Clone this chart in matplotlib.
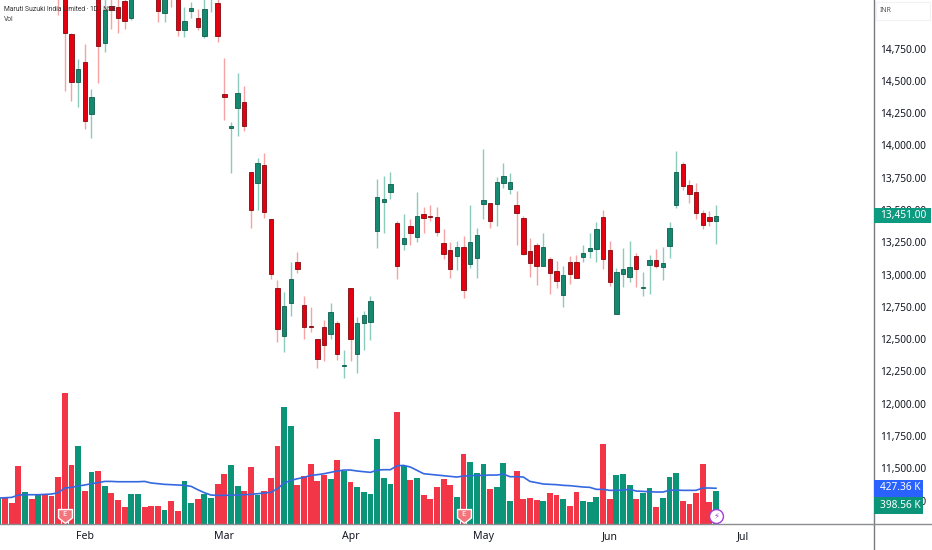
import matplotlib
matplotlib.use('Agg')
import matplotlib.pyplot as plt
from matplotlib.lines import Line2D
from matplotlib.patches import Rectangle
from matplotlib.path import Path

plt.rcParams['font.family'] = ['Noto Sans', 'DejaVu Sans']

# daily prices (candles above the top edge are only roughly known)
opens = [15300, 15400, 15320, 15500, 15280, 15420, 15300, 15480, 15400, 15350,
         15300, 14860, 14493, 14643, 14240, 15250, 14790, 15079, 15074, 15118,
         14989, 15200, 15350, 15300, 15300, 15022, 15350, 15280, 14891, 15040,
         14989, 14849, 15160, 15100, 14400, 14137, 14292, 14333, 13794, 13712,
         13846, 13428, 12896, 12527, 12783, 13097, 12762, 12600, 12499, 12594,
         12543, 12623, 12295, 12896, 12383, 12623, 12636, 13340, 13562, 13642,
         13397, 13239, 13376, 13294, 13469, 13454, 13443, 13242, 13193, 13147,
         13216, 13085, 13126, 13549, 13557, 13549, 13712, 13665, 13541, 13436,
         13180, 13229, 13069, 13123, 13030, 12842, 13095, 13098, 13136, 13183,
         13201, 13448, 13193, 12695, 13007, 12984, 13147, 12896, 13072, 13113,
         13061, 13224, 13541, 13853, 13693, 13639, 13474, 13443, 13415]
closes = [15400, 15300, 15250, 15280, 15400, 15300, 15450, 15350, 15300, 15150,
          14867, 14493, 14589, 14191, 14377, 14772, 15048, 15048, 14984, 14965,
          15200, 15300, 15250, 15180, 15040, 15250, 15180, 14891, 14965, 15063,
          14914, 15058, 15300, 14847, 14377, 14150, 14406, 14148, 13497, 13864,
          13487, 13007, 12581, 12754, 12966, 13043, 12592, 12594, 12349, 12458,
          12708, 12383, 12303, 12504, 12628, 12685, 12796, 13601, 13585, 13704,
          13069, 13283, 13325, 13451, 13441, 13448, 13332, 13157, 13043, 13216,
          12883, 13250, 13309, 13577, 13417, 13714, 13766, 13719, 13474, 13162,
          13092, 13067, 13216, 13010, 12950, 13000, 13002, 12976, 13165, 13203,
          13355, 13123, 12940, 13018, 13041, 13059, 13043, 12907, 13113, 13067,
          13092, 13358, 13797, 13686, 13624, 13477, 13386, 13415, 13451]
highs = [15450, 15480, 15380, 15550, 15450, 15470, 15500, 15520, 15440, 15400,
         15350, 14870, 14666, 14785, 14439, 15300, 15200, 15140, 15130, 15160,
         15250, 15350, 15400, 15350, 15350, 15300, 15400, 15300, 15069, 15113,
         15053, 15200, 15350, 15200, 14674, 14179, 14563, 14460, 13794, 13905,
         13939, 13428, 12958, 12865, 13097, 13172, 12834, 12752, 12499, 12649,
         12778, 12644, 12416, 12896, 12669, 12716, 12834, 13737, 13763, 13794,
         13415, 13469, 13430, 13639, 13526, 13539, 13521, 13350, 13250, 13263,
         13299, 13539, 13358, 13970, 13557, 13758, 13864, 13789, 13647, 13454,
         13283, 13242, 13319, 13139, 13103, 13067, 13144, 13149, 13229, 13325,
         13410, 13500, 13263, 13049, 13208, 13260, 13170, 13018, 13149, 13198,
         13211, 13410, 13957, 13869, 13732, 13712, 13500, 13492, 13541]
lows = [15250, 15260, 15200, 15220, 15240, 15260, 15280, 15300, 15260, 15009,
        14424, 14346, 14300, 14130, 14055, 14480, 14720, 14898, 14867, 14901,
        14971, 15150, 15180, 15140, 14958, 14958, 15069, 14849, 14842, 14984,
        14893, 14829, 15035, 14798, 14197, 13789, 14075, 14111, 13363, 13500,
        13435, 12963, 12478, 12398, 12682, 13010, 12504, 12556, 12280, 12331,
        12504, 12339, 12200, 12331, 12238, 12419, 12494, 13206, 13325, 13588,
        12963, 13193, 13232, 13252, 13325, 13417, 13299, 13121, 12974, 13036,
        12821, 13048, 12971, 13433, 13358, 13376, 13670, 13624, 13229, 13152,
        12981, 12920, 13069, 12847, 12899, 12749, 12927, 12976, 13098, 13128,
        13100, 13043, 12914, 12695, 12907, 12943, 12907, 12837, 12847, 13054,
        12961, 13126, 13518, 13655, 13557, 13428, 13350, 13376, 13234]
# volume in thousands
volumes = [310, 310, 247, 697, 386, 295, 342, 350, 334, 565, 1564, 708, 935, 394,
           617, 637, 450, 374, 283, 199, 362, 362, 207, 215, 215, 171, 279, 155,
           517, 247, 302, 362, 310, 482, 601, 700, 450, 394, 677, 350, 394, 545,
           931, 1397, 1166, 462, 569, 716, 517, 585, 537, 768, 633, 501, 438, 382,
           358, 1019, 545, 474, 1333, 697, 521, 545, 350, 295, 438, 537, 466, 318,
           832, 744, 609, 716, 422, 438, 724, 271, 629, 302, 306, 287, 271, 374,
           346, 302, 215, 386, 279, 259, 322, 951, 295, 581, 601, 466, 302, 370,
           430, 207, 306, 557, 609, 279, 243, 374, 712, 259, 399]
vol_ma = [310, 314, 318, 346, 350, 350, 350, 354, 358, 374, 430, 438, 454, 466,
          482, 494, 509, 509, 505, 505, 505, 505, 509, 490, 482, 474, 470, 466,
          462, 450, 410, 374, 346, 342, 342, 346, 346, 350, 354, 362, 370, 378,
          422, 490, 521, 541, 557, 581, 589, 601, 617, 633, 645, 645, 633, 625,
          617, 645, 649, 649, 697, 700, 681, 641, 601, 593, 585, 577, 569, 561,
          573, 577, 581, 581, 585, 585, 597, 565, 565, 561, 509, 494, 478, 474,
          470, 462, 458, 450, 442, 438, 414, 414, 402, 402, 406, 414, 394, 390,
          386, 382, 382, 402, 406, 402, 402, 402, 430, 430, 427]
month_pos = [13, 34, 53, 73, 92, 112]
month_names = ['Feb', 'Mar', 'Apr', 'May', 'Jun', 'Jul']
price_ticks = [11250, 11500, 11750, 12000, 12250, 12500, 12750, 13000, 13250,
               13500, 13750, 14000, 14250, 14500, 14750, 15000]
earnings_days = [10, 70]
last_price = '13,451.00'
vol_ma_label = '427.36 K'
vol_label = '398.56 K'

RED = '#e5000f'
GREEN = '#14896f'
W, H = 932, 550
n = len(closes)

fig = plt.figure(figsize=(9.32, 5.5), dpi=100, facecolor='white')
ax = fig.add_axes([0, 26 / H, 873.5 / W, 524 / H])
ax_vol = ax.twinx()
ax.set_zorder(2)
ax_vol.set_zorder(1)
ax.patch.set_visible(False)

xs = list(range(n))
up = [c >= o for o, c in zip(opens, closes)]

# volume pane
vol_cols = ['#0c9479' if u else '#f23648' for u in up]
ax_vol.bar(xs, volumes, width=0.88, color=vol_cols, linewidth=0)
ax_vol.plot(xs, vol_ma, color='#3568e0', lw=1.2)
ax_vol.set_ylim(0, 6262)
ax_vol.set_yticks([])

# earnings and dividend badges
shield = Path([(-1, 1), (1, 1), (1, -0.2), (0, -1), (-1, -0.2), (-1, 1)], closed=True)
for d in earnings_days:
    ax_vol.plot([d], [100], marker=shield, ms=10, mfc='#f4747c', mec='white', mew=1, zorder=5)
    ax_vol.text(d, 108, 'E', color='white', fontsize=5.5, fontweight='bold',
                ha='center', va='center', zorder=6)
ax_vol.plot([108], [95], marker='o', ms=10, mfc='white', mec='#a040d8', mew=1, zorder=5)
ax_vol.text(108, 95, '\u26a1', color='#a040d8', fontsize=6, ha='center', va='center',
            zorder=6, family=['DejaVu Sans'])

# candles
wick_cols = ['#8ccabb' if u else '#f5a3a3' for u in up]
edge_cols = ['#0d5c4c' if u else '#7e0a12' for u in up]
body_cols = [GREEN if u else RED for u in up]
ax.vlines(xs, lows, highs, colors=wick_cols, lw=1, zorder=2)
ax.bar(xs, [abs(c - o) for o, c in zip(opens, closes)], bottom=[min(o, c) for o, c in zip(opens, closes)],
       width=0.66, color=body_cols, edgecolor=edge_cols, linewidth=0.6, zorder=3)

ax.set_xlim(0.241, 131.7)
ax.set_ylim(11069.6, 15125.4)
ax.yaxis.tick_right()
ax.set_yticks(price_ticks)
ax.set_yticklabels([f'{p:,.2f}' for p in price_ticks])
ax.set_xticks(month_pos)
ax.set_xticklabels(month_names)
ax.tick_params(axis='y', length=0, pad=5, labelsize=7.3, colors='#131722')
ax.tick_params(axis='x', length=0, pad=5, labelsize=7.6, colors='#131722')
for ax_i in (ax, ax_vol):
    for s in ax_i.spines.values():
        s.set_visible(False)

# pane dividers run off to the figure edges
fig.add_artist(Line2D([873.5 / W] * 2, [0, 1], color='#777a80', lw=1, zorder=4))
fig.add_artist(Line2D([0, 1], [26 / H] * 2, color='#8a8d92', lw=1, zorder=4))


def tag(y0, y1, x1, col, s):
    fig.add_artist(Rectangle((874 / W, 1 - y1 / H), (x1 - 874) / W, (y1 - y0) / H,
                             transform=fig.transFigure, color=col, lw=0, zorder=5))
    fig.text(880 / W, 1 - (y0 + y1) / 2 / H, s, color='white', fontsize=7.3,
             va='center', ha='left', zorder=6)


tag(208, 223, 931, '#0c9b80', last_price)
tag(479.5, 496.5, 922.5, '#2962ff', vol_ma_label)
tag(496.5, 514, 922.5, '#0c9479', vol_label)

# currency box hides the 15,000 label
fig.add_artist(Rectangle((876 / W, 1 - 20 / H), 54 / W, 18 / H, transform=fig.transFigure,
                         facecolor='white', edgecolor='#f2f2f2', lw=0.8, zorder=5))
fig.text(880 / W, 1 - 10.5 / H, 'INR', color='#555555', fontsize=5, va='center', zorder=6)

fig.text(4 / W, 1 - 9.8 / H, 'Maruti Suzuki India Limited \u00b7 1D \u00b7 NSE', color='#333333',
         fontsize=4.9, va='center', family=['Roboto', 'DejaVu Sans'])
fig.text(4 / W, 1 - 19.8 / H, 'Vol', color='#444444', fontsize=4.9, va='center',
         family=['Roboto', 'DejaVu Sans'])

fig.savefig('out.png', dpi=100)
